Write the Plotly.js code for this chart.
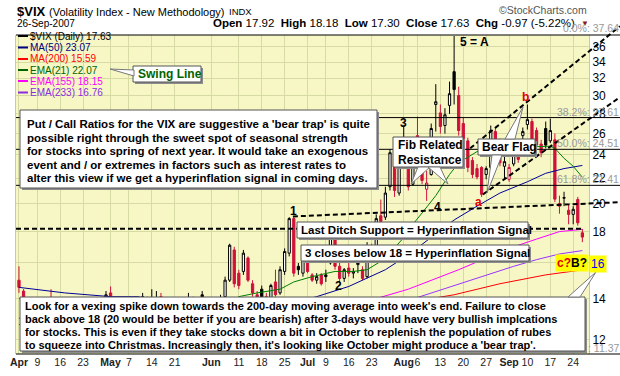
<!DOCTYPE html>
<html><head><meta charset="utf-8">
<script src="https://cdn.plot.ly/plotly-3.0.1.min.js"></script>
<style>html,body{margin:0;padding:0;background:#fff}#chart{width:620px;height:376px}</style>
</head><body><div id="chart"></div>
<script>
// ---------------- DATA ----------------
const tradingDays = [
'2007-04-02','2007-04-03','2007-04-04','2007-04-05','2007-04-09','2007-04-10','2007-04-11','2007-04-12','2007-04-13','2007-04-16',
'2007-04-17','2007-04-18','2007-04-19','2007-04-20','2007-04-23','2007-04-24','2007-04-25','2007-04-26','2007-04-27','2007-04-30',
'2007-05-01','2007-05-02','2007-05-03','2007-05-04','2007-05-07','2007-05-08','2007-05-09','2007-05-10','2007-05-11','2007-05-14',
'2007-05-15','2007-05-16','2007-05-17','2007-05-18','2007-05-21','2007-05-22','2007-05-23','2007-05-24','2007-05-25','2007-05-29',
'2007-05-30','2007-05-31','2007-06-01','2007-06-04','2007-06-05','2007-06-06','2007-06-07','2007-06-08','2007-06-11','2007-06-12',
'2007-06-13','2007-06-14','2007-06-15','2007-06-18','2007-06-19','2007-06-20','2007-06-21','2007-06-22','2007-06-25','2007-06-26',
'2007-06-27','2007-06-28','2007-06-29','2007-07-02','2007-07-03','2007-07-05','2007-07-06','2007-07-09','2007-07-10','2007-07-11',
'2007-07-12','2007-07-13','2007-07-16','2007-07-17','2007-07-18','2007-07-19','2007-07-20','2007-07-23','2007-07-24','2007-07-25',
'2007-07-26','2007-07-27','2007-07-30','2007-07-31','2007-08-01','2007-08-02','2007-08-03','2007-08-06','2007-08-07','2007-08-08',
'2007-08-09','2007-08-10','2007-08-13','2007-08-14','2007-08-15','2007-08-16','2007-08-17','2007-08-20','2007-08-21','2007-08-22',
'2007-08-23','2007-08-24','2007-08-27','2007-08-28','2007-08-29','2007-08-30','2007-08-31','2007-09-04','2007-09-05','2007-09-06',
'2007-09-07','2007-09-10','2007-09-11','2007-09-12','2007-09-13','2007-09-14','2007-09-17','2007-09-18','2007-09-19','2007-09-20',
'2007-09-21','2007-09-24','2007-09-25','2007-09-26'];

const openP = [
15.0,14.4,13.5,13.2,12.8,13.0,12.4,13.4,12.9,12.5, 12.1,12.3,12.6,12.6,12.2,12.7,12.8,12.4,12.6,13.0,
14.3,13.9,13.1,12.9,12.9,12.9,13.2,12.9,14.0,13.3, 13.8,14.1,13.1,13.2,12.8,12.8,13.0,13.2,14.0,13.3,
14.2,13.6,13.0,12.9,13.4,14.1,15.0,16.8,15.4,15.5, 16.3,14.8,14.2,14.5,14.1,14.0,14.9,14.3,15.5,16.6,
18.9,15.8,15.4,16.2,15.3,15.0,15.3,15.3,16.0,17.5, 15.8,15.1,15.7,15.4,15.9,15.6,15.2,16.8,16.6,19.1,
19.0,21.3,23.9,20.8,25.0,23.0,21.5,25.8,23.4,21.1, 22.3,29.0,28.1,26.8,28.9,32.8,30.0,27.0,25.3,23.5,
22.8,22.9,22.3,22.9,26.2,24.8,23.0,21.9,23.2,24.5, 25.8,26.9,27.2,26.3,25.0,26.5,25.3,25.4,20.0,20.4,
19.5,19.2,20.3,17.92];
const highP = [
15.8,14.5,13.8,13.4,13.3,13.1,13.6,14.5,13.1,12.6, 12.5,12.8,13.3,12.7,12.7,13.1,12.9,12.8,13.2,14.4,
14.65,14.0,13.4,13.2,13.2,13.5,13.3,14.3,14.1,14.5, 14.4,14.3,13.5,13.3,13.1,13.2,13.4,14.3,14.1,14.0,
14.4,13.7,13.3,13.4,14.2,15.2,17.2,17.0,15.6,16.8, 16.4,15.0,14.4,14.7,14.3,14.8,15.6,15.8,16.9,19.0,
19.0,16.0,16.6,16.4,15.4,15.4,15.4,15.6,18.4,17.6, 16.0,15.7,16.0,15.7,16.4,15.8,17.3,17.2,19.2,20.3,
21.3,24.5,24.2,24.0,26.8,23.4,25.6,27.7,23.8,22.6, 27.0,31.3,29.0,28.6,31.6,37.5,31.0,27.6,25.6,23.8,
23.2,23.0,23.0,26.8,26.5,25.5,23.9,23.2,25.0,24.8, 26.6,29.0,27.5,26.6,25.4,27.2,27.5,26.0,20.6,20.9,
19.9,19.8,20.5,18.18];
const lowP = [
14.3,13.4,13.1,12.7,12.6,12.4,12.3,12.8,12.4,12.0, 11.9,12.1,12.4,12.0,12.1,12.5,12.3,12.2,12.4,12.9,
13.7,13.0,12.8,12.6,12.7,12.8,12.7,12.8,13.1,13.2, 13.4,13.0,12.9,12.7,12.6,12.7,12.8,13.1,13.1,13.2,
13.5,12.9,12.7,12.8,13.2,14.0,14.9,14.6,14.5,15.3, 14.9,14.1,13.7,13.9,13.6,13.9,14.1,14.2,15.3,16.4,
15.2,15.3,15.2,15.4,14.9,14.8,14.7,14.9,15.9,15.6, 14.9,14.9,15.2,15.1,15.4,15.0,15.1,16.0,16.5,17.6,
18.8,21.0,20.5,20.6,22.8,21.0,21.4,22.9,21.5,20.2, 22.2,26.2,26.0,26.0,28.0,29.0,25.8,24.8,22.5,22.0,
21.9,20.5,21.9,22.7,23.5,23.0,22.0,21.7,23.0,23.3, 25.2,26.4,25.0,24.8,23.8,24.6,25.1,20.1,19.25,19.8,
18.5,18.5,18.4,17.30];
const closeP = [
14.6,13.5,13.2,12.9,13.0,12.5,13.3,12.9,12.5,12.1, 12.2,12.4,12.7,12.1,12.6,12.8,12.4,12.6,13.0,14.2,
14.0,13.1,12.9,12.9,12.8,13.2,12.8,14.1,13.2,13.7, 14.0,13.1,13.2,12.8,12.8,13.0,13.1,14.0,13.2,13.8,
13.9,13.1,12.8,13.3,13.9,15.0,17.1,14.8,14.7,16.6, 15.0,14.3,13.9,14.0,13.8,14.7,14.2,15.6,16.7,18.9,
15.4,15.6,16.3,15.5,15.0,15.2,14.8,15.2,18.2,15.8, 15.1,15.6,15.4,15.5,16.0,15.1,16.9,16.4,18.9,18.7,
20.8,24.2,21.0,23.5,23.7,21.3,25.2,23.2,21.8,21.6, 26.5,29.3,26.7,27.9,30.2,30.67,26.3,25.5,22.9,22.3,
22.1,20.7,22.8,26.3,23.7,23.3,23.4,22.9,24.6,23.6, 26.2,27.4,25.3,24.9,24.2,24.9,26.3,20.33,19.8,20.45,
19.2,19.57,18.60,17.63];

// moving averages (sample points)
const ma50Days = ['2007-04-02','2007-04-17','2007-05-01','2007-05-09','2007-05-22','2007-06-06','2007-06-20','2007-07-05','2007-07-16','2007-07-26','2007-08-02','2007-08-09','2007-08-16','2007-08-23','2007-08-30','2007-09-10','2007-09-14','2007-09-20','2007-09-26'];
const ma50Vals = [14.6,14.3,14.1,14.1,13.6,13.2,13.5,14.1,14.65,15.6,16.5,17.6,18.8,19.8,20.8,21.7,22.4,22.8,23.07];
const ma200Days = ['2007-04-02','2007-05-30','2007-07-26','2007-08-16','2007-08-30','2007-09-14','2007-09-26'];
const ma200Vals = [12.7,12.9,13.6,14.2,14.8,15.3,15.59];
const ema21Days = ['2007-04-02','2007-04-10','2007-04-17','2007-04-24','2007-05-01','2007-05-08','2007-05-15','2007-05-22','2007-05-30','2007-06-06','2007-06-11','2007-06-15','2007-06-22','2007-06-27','2007-07-03','2007-07-11','2007-07-17','2007-07-20','2007-07-25','2007-07-27','2007-08-01','2007-08-03','2007-08-07','2007-08-10','2007-08-15','2007-08-17','2007-08-23','2007-08-30','2007-09-07','2007-09-17','2007-09-18','2007-09-20','2007-09-24','2007-09-26'];
const ema21Vals = [14.0,13.8,13.4,13.1,13.2,13.2,13.3,13.3,13.4,13.6,14.1,14.3,14.5,14.9,15.2,15.5,15.5,15.6,16.1,16.6,17.6,18.5,19.3,20.6,22.3,23.3,24.3,24.5,24.7,24.8,24.6,23.7,23.0,22.07];
const ema155Days = ['2007-04-02','2007-05-30','2007-06-27','2007-07-24','2007-08-02','2007-08-09','2007-08-17','2007-08-27','2007-09-05','2007-09-12','2007-09-19','2007-09-26'];
const ema155Vals = [13.0,13.2,13.6,14.0,14.5,15.0,15.6,16.3,17.0,17.5,18.0,18.15];
const ema233Days = ema155Days;
const ema233Vals = [13.0,13.1,13.3,13.5,13.9,14.3,14.8,15.3,15.8,16.2,16.55,16.76];

// axis ticks
const xTickDays = ['2007-04-02','2007-04-09','2007-04-16','2007-04-23','2007-05-01','2007-05-07','2007-05-14','2007-05-21','2007-06-01','2007-06-11','2007-06-18','2007-06-25','2007-07-02','2007-07-09','2007-07-16','2007-07-23','2007-08-01','2007-08-06','2007-08-13','2007-08-20','2007-08-27','2007-09-04','2007-09-10','2007-09-17','2007-09-24'];
const xTickLabels = ['<b>Apr</b>','9','16','23','<b>May</b>','7','14','21','<b>Jun</b>','11','18','25','<b>Jul</b>','9','16','23','<b>Aug</b>','6','13','20','27','<b>Sep</b>','10','17','24'];
const yTickVals = [12,14,16,18,20,22,24,26,28,30,32,34,36];

// Fibonacci retracement levels
const fibPct = ['0.0%','38.2%','50.0%','61.8%','100.0%'];
const fibVal = [37.64,27.61,24.51,21.41,11.37];

// hand-drawn trend lines: [trading-day index, value]
const supportLine = [[-0.65,18.2],[123.1,18.2]];
const trend14Line = [[59.8,19.05],[131.2,20.1]];
const flagUpper = [[98.5,24.6],[131.2,38.9]];
const flagLower = [[101.3,20.7],[131.2,29.8]];

// ---------------- BUILD ----------------
const idx = d => tradingDays.indexOf(d);

const PL=16, PR=589, PT=35, PB=354;
const X0=-0.65, X1=124.45, YLO=11.37, YHI=37.64;
const px = p => (p-PL)/(PR-PL);
const py = p => (PB-p)/(PB-PT);
const dX = i => (i-X0)/(X1-X0);
const dY = v => (Math.log10(v)-Math.log10(YLO))/(Math.log10(YHI)-Math.log10(YLO));

const RED='#d0103a', BLK='#000000';
function candleSubset(isRed){
  const o={x:[],open:[],high:[],low:[],close:[]};
  for(let i=0;i<closeP.length;i++){
    const red = i===0 ? true : closeP[i] < closeP[i-1];
    if(red!==isRed) continue;
    o.x.push(i); o.open.push(openP[i]); o.high.push(highP[i]); o.low.push(lowP[i]); o.close.push(closeP[i]);
  }
  const c = isRed?RED:BLK;
  return Object.assign(o,{type:'candlestick',whiskerwidth:0,hoverinfo:'skip',showlegend:false,
    increasing:{line:{color:c,width:1},fillcolor:'#ffffff'},
    decreasing:{line:{color:c,width:1},fillcolor:c}});
}
function maTrace(days,vals,color){
  return {type:'scatter',mode:'lines',x:days.map(idx),y:vals,line:{color:color,width:1},hoverinfo:'skip',showlegend:false};
}
const traces = [
  candleSubset(false), candleSubset(true),
  maTrace(ma200Days,ma200Vals,'#ff0000'),
  maTrace(ema233Days,ema233Vals,'#9933ff'),
  maTrace(ema155Days,ema155Vals,'#ff00ff'),
  maTrace(ma50Days,ma50Vals,'#000099'),
  maTrace(ema21Days,ema21Vals,'#008000')
];

const shapes=[], ann=[];
const F='Arial';
function txt(text,x,y,size,opt){
  opt=opt||{};
  ann.push({xref:'paper',yref:'paper',x:px(x),y:py(y),text:text,showarrow:false,
    xanchor:opt.xa||'left',yanchor:opt.ya||'middle',
    font:{family:opt.family||F,size:size,color:opt.color||'#000'},
    bgcolor:opt.bg, borderpad:opt.pad||0});
}
function box(l,t,r,b){
  shapes.push({type:'rect',xref:'paper',yref:'paper',x0:px(l+2),x1:px(r+2),y0:py(b+2),y1:py(t+2),fillcolor:'#8c8c8c',line:{width:0},layer:'above'});
  shapes.push({type:'rect',xref:'paper',yref:'paper',x0:px(l),x1:px(r),y0:py(b),y1:py(t),fillcolor:'#ffffff',line:{color:'#555',width:1},layer:'above'});
}
function poly(pts){
  let s='M'+pts.map(p=>px(p[0])+','+py(p[1])).join('L')+'Z';
  shapes.push({type:'path',xref:'paper',yref:'paper',path:s,fillcolor:'#ffffff',line:{color:'#777',width:1},layer:'above'});
}
function dline(seg,dash,w){
  shapes.push({type:'line',xref:'paper',yref:'paper',x0:dX(seg[0][0]),y0:dY(seg[0][1]),x1:dX(seg[1][0]),y1:dY(seg[1][1]),
    line:{color:'#000',width:w,dash:dash},layer:'above'});
}

// fib lines
fibVal.forEach(v=>{
  shapes.push({type:'line',xref:'paper',yref:'paper',x0:0,x1:px(620),y0:dY(v),y1:dY(v),line:{color:'#000',width:1},layer:'above'});
});
// dashed trend lines
dline(supportLine,'5px,3px',2);
dline(trend14Line,'5px,3px',2);
dline(flagUpper,'5px,3px',2);
dline(flagLower,'5px,3px',2);

// legend marks
const legItems=[['$VIX (Daily) 17.63','#000'],['MA(50) 23.07','#000080'],['MA(200) 15.59','#ff0000'],['EMA(21) 22.07','#006400'],['EMA(155) 18.15','#ff00ff'],['EMA(233) 16.76','#8a2be2']];
const legY=[36,47.5,59,70,81,92.5];
legItems.forEach((it,k)=>{
  shapes.push({type:'line',xref:'paper',yref:'paper',x0:px(18),x1:px(28),y0:py(legY[k]),y1:py(legY[k]),line:{color:it[1],width:2},layer:'above'});
  txt(it[0],29,legY[k],10,{color:it[1]});
});

// boxes
box(133,66,201,82); poly([[134,70],[134,76],[110,69]]);
box(20,110,377,188);
box(393,137,463,167); poly([[418,167],[430,167],[411,184]]); poly([[428,167],[440,167],[448,184]]);
box(478,139,535,155); poly([[505,139],[515,139],[523,107]]); poly([[492,155],[502,155],[487,193]]);
box(297,222,528,238);
box(301,245,529,261);
box(20,297,585,351); poly([[568,297],[580,297],[596,272]]);

// header
txt('<b>$VIX</b>',16,12,13);
txt('(Volatility Index - New Methodology)',48,12,11);
txt('INDX',228,12,9.5);
txt('26-Sep-2007',16,24,10);
txt('<b>Open</b> 17.92\u00a0 <b>High</b> 18.18\u00a0 <b>Low</b> 17.30\u00a0 <b>Close</b> 17.63\u00a0 <b>Chg</b> -0.97 (-5.22%)',576,23,11.5,{xa:'right'});
txt('\u25BC',580,23,8,{color:'#8b1a1a'});
txt('\u00a9StockCharts.com',588,10,10.5,{xa:'right',color:'#555'});

// fib labels
const fibLabY=[28,112,143,179,348];
fibPct.forEach((p,k)=>{
  const t = k===4 ? ': '+fibVal[k].toFixed(2) : p+': '+fibVal[k].toFixed(2);
  txt(t,620,fibLabY[k],10.5,{xa:'right',color:'#999'});
});

// box texts
txt('<b>Swing Line</b>',137,74,12,{color:'#006400'});
const leftLines=["Put / Call Ratios for the VIX are suggestive a 'bear trap' is quite",
 "possible right through the sweet spot of seasonal strength",
 "for stocks into spring of next year. It would take an exogenous",
 "event and / or extremes in factors such as interest rates to",
 "alter this view if we get a hyperinflation signal in coming days."];
leftLines.forEach((s,k)=>txt('<b>'+s+'</b>',26,124+k*13.6,11.5));
const botLines=["Look for a vexing spike down towards the 200-day moving average into week's end. Failure to close",
 "back above 18 (20 would be better if you are bearish) after 3-days would have very bullish implcations",
 "for stocks. This is even if they take stocks down a bit in October to replenish the population of rubes",
 "to squeeze into Christmas. Increasingly then, it's looking like October might produce a 'bear trap'."];
botLines.forEach((s,k)=>txt('<b>'+s+'</b>',24,306+k*13,11));
txt('<b>Fib Related</b>',397,145,12);
txt('<b>Resistance</b>',397,160,12);
txt('<b>Bear Flag</b>',481,147,12);
txt('<b>Last Ditch Support = Hyperinflation Signal</b>',300,230,11.5);
txt('<b>3 closes below 18 = Hyperinflation Signal</b>',304,253,11.5);

// wave labels
txt('<b>1</b>',293,211,12,{xa:'center'});
txt('<b>2</b>',338,286,12,{xa:'center'});
txt('<b>3</b>',403,123,12,{xa:'center'});
txt('<b>4</b>',437,207,12,{xa:'center'});
txt('<b>5 = A</b>',459,42,12);
txt('<b>a</b>',478,202,12,{xa:'center',color:'#e00000'});
txt('<b>b</b>',525,97,12,{xa:'center',color:'#e00000'});
txt('<b><span style="color:#e00000">c?</span>B?</b>',572,263,12,{xa:'center',bg:'#ffff00',pad:1});
txt('16',598,263.5,12,{xa:'center',color:'#0000ff',bg:'#ffff00',pad:1});

const layout={
  width:620,height:376,margin:{l:PL,r:620-PR,t:PT,b:376-PB},
  paper_bgcolor:'#ffffff',plot_bgcolor:'#f7f7c6',showlegend:false,
  xaxis:{type:'linear',range:[X0,X1],tickmode:'array',tickvals:xTickDays.map(idx),ticktext:xTickLabels,tickangle:0,
    showgrid:true,gridcolor:'#d6dba4',gridwidth:1,zeroline:false,showline:false,ticks:'',
    tickfont:{family:F,size:10.5,color:'#222'},rangeslider:{visible:false},fixedrange:true},
  yaxis:{type:'log',side:'right',range:[Math.log10(YLO),Math.log10(YHI)],tickmode:'array',tickvals:yTickVals,
    ticktext:yTickVals.map(String),showgrid:true,gridcolor:'#d6dba4',zeroline:false,showline:true,linecolor:'#c9c9a8',mirror:true,
    ticks:'',tickfont:{family:F,size:12,color:'#000'},fixedrange:true},
  shapes:shapes,annotations:ann
};
Plotly.newPlot('chart',traces,layout,{staticPlot:true,displayModeBar:false});
</script></body></html>
